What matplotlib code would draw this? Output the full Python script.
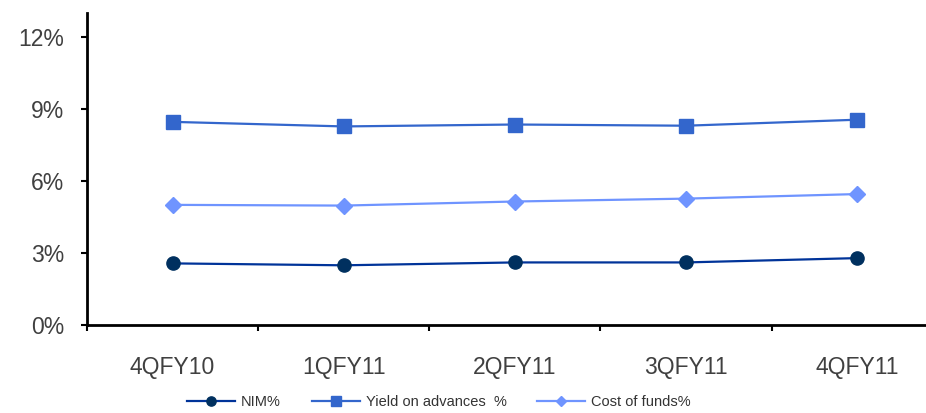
import matplotlib.pyplot as plt
from matplotlib.ticker import FixedLocator, FuncFormatter

plt.rcParams['font.family'] = ['Liberation Sans', 'DejaVu Sans']

quarters = ["4QFY10", "1QFY11", "2QFY11", "3QFY11", "4QFY11"]
nim = [2.57, 2.49, 2.61, 2.61, 2.79]
yield_on_advances = [8.47, 8.28, 8.36, 8.31, 8.56]
cost_of_funds = [5.01, 4.98, 5.15, 5.27, 5.46]

fig = plt.figure(figsize=(9.26, 4.13), dpi=100)
ax = fig.add_axes([0.094, 0.213, 0.924, 0.755])

x = list(range(len(quarters)))
ax.plot(x, nim, color='#003399', lw=1.6, marker='o', ms=9.5,
        mfc='#00305f', mec='#00305f', label='NIM%')
ax.plot(x, yield_on_advances, color='#3366cc', lw=1.6, marker='s', ms=10,
        mfc='#3366cc', mec='#3366cc', label='Yield on advances  %')
ax.plot(x, cost_of_funds, color='#6f94ff', lw=1.6, marker='D', ms=8,
        mfc='#6f94ff', mec='#6f94ff', label='Cost of funds%')

ax.set_xlim(-0.5, 4.5)
ax.set_ylim(0, 13)

ax.set_yticks([0, 3, 6, 9, 12])
ax.yaxis.set_major_formatter(FuncFormatter(lambda v, p: f"{v:.0f}%"))

# tick marks sit between the quarters, labels in the middle
ax.xaxis.set_major_locator(FixedLocator([i - 0.5 for i in range(len(quarters) + 1)]))
ax.xaxis.set_major_formatter(FuncFormatter(lambda v, p: ""))
ax.set_xticks(x, minor=True)
ax.set_xticklabels(quarters, minor=True)

for side in ['top', 'right']:
    ax.spines[side].set_visible(False)
for side in ['left', 'bottom']:
    ax.spines[side].set_linewidth(2)
    ax.spines[side].set_color('black')

ax.tick_params(axis='both', which='major', direction='out', length=4.5, width=1.5,
               colors='black', labelcolor='#404040', labelsize=16.5)
ax.tick_params(axis='y', pad=12)
ax.tick_params(axis='x', which='minor', length=0, pad=22, labelsize=16.5,
               labelcolor='#404040')

fig.legend(loc='center', bbox_to_anchor=(0.474, 0.026), ncol=3, frameon=False,
           fontsize=10.5, handlelength=3.3, handletextpad=0.4, columnspacing=2.1,
           labelcolor='#333333', markerscale=0.7)

fig.savefig('out.png', dpi=100)
